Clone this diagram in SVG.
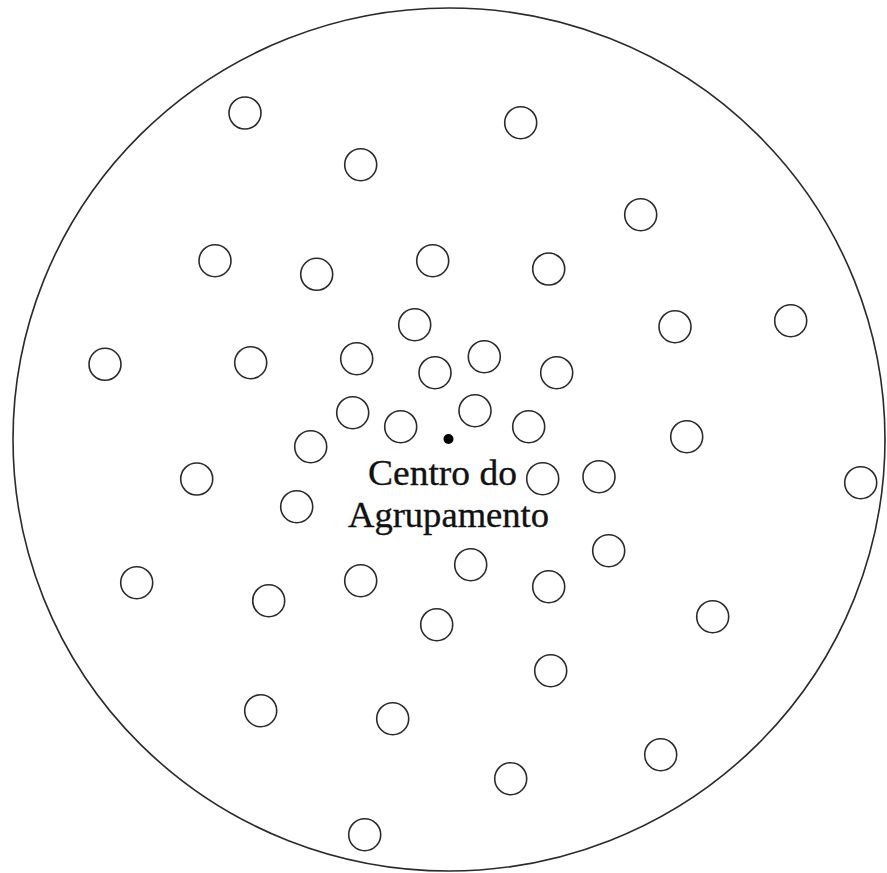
<svg xmlns="http://www.w3.org/2000/svg" width="887" height="873" viewBox="0 0 887 873">
<style>
.p{fill:none;stroke:#2a2a2a;stroke-width:1.6}
.b{fill:none;stroke:#2a2a2a;stroke-width:1.6}
.t{font-family:"Liberation Serif","Times New Roman",serif;font-size:36.5px;fill:#111;stroke:#111;stroke-width:0.35}
</style>
<rect width="887" height="873" fill="#fff"/>
<g id="cluster">
<ellipse class="b" cx="449" cy="439.5" rx="436" ry="431.5"/>
</g>
<g id="points">
<circle class="p" cx="245" cy="113" r="16"/>
<circle class="p" cx="520.7" cy="122.7" r="16"/>
<circle class="p" cx="360.7" cy="164.7" r="16"/>
<circle class="p" cx="640.7" cy="214.7" r="16"/>
<circle class="p" cx="215" cy="260.7" r="16"/>
<circle class="p" cx="316.7" cy="274.3" r="16"/>
<circle class="p" cx="432.7" cy="260.7" r="16"/>
<circle class="p" cx="548.7" cy="269" r="16"/>
<circle class="p" cx="675" cy="326.7" r="16"/>
<circle class="p" cx="790.7" cy="320.7" r="16"/>
<circle class="p" cx="414.7" cy="324.7" r="16"/>
<circle class="p" cx="105" cy="364.3" r="16"/>
<circle class="p" cx="250.7" cy="362.7" r="16"/>
<circle class="p" cx="356.7" cy="358.7" r="16"/>
<circle class="p" cx="435" cy="372.7" r="16"/>
<circle class="p" cx="484.3" cy="356.7" r="16"/>
<circle class="p" cx="556.7" cy="372.7" r="16"/>
<circle class="p" cx="352.7" cy="412.7" r="16"/>
<circle class="p" cx="400.7" cy="426.7" r="16"/>
<circle class="p" cx="475" cy="410.7" r="16"/>
<circle class="p" cx="528.7" cy="426.7" r="16"/>
<circle class="p" cx="310.7" cy="446.7" r="16"/>
<circle class="p" cx="686.7" cy="436.7" r="16"/>
<circle class="p" cx="196.7" cy="479" r="16"/>
<circle class="p" cx="542.7" cy="478.7" r="16"/>
<circle class="p" cx="599" cy="476.7" r="16"/>
<circle class="p" cx="860.7" cy="482.7" r="16"/>
<circle class="p" cx="296.7" cy="506.7" r="16"/>
<circle class="p" cx="608.7" cy="550.7" r="16"/>
<circle class="p" cx="136.7" cy="582.7" r="16"/>
<circle class="p" cx="360.7" cy="580.7" r="16"/>
<circle class="p" cx="470.7" cy="564.7" r="16"/>
<circle class="p" cx="548.7" cy="586.7" r="16"/>
<circle class="p" cx="268.7" cy="600.7" r="16"/>
<circle class="p" cx="436.7" cy="624.7" r="16"/>
<circle class="p" cx="712.7" cy="616.7" r="16"/>
<circle class="p" cx="550.7" cy="670.7" r="16"/>
<circle class="p" cx="260.7" cy="710.7" r="16"/>
<circle class="p" cx="392.7" cy="718.7" r="16"/>
<circle class="p" cx="660.7" cy="754.7" r="16"/>
<circle class="p" cx="510.7" cy="778.7" r="16"/>
<circle class="p" cx="364.7" cy="834.7" r="16"/>
</g>
<g id="center">
<circle cx="448.5" cy="439" r="5" fill="#000"/>
<text class="t" x="368" y="485" textLength="149" lengthAdjust="spacingAndGlyphs">Centro do</text>
<text class="t" x="348" y="527" textLength="201" lengthAdjust="spacingAndGlyphs">Agrupamento</text>
</g>
</svg>
